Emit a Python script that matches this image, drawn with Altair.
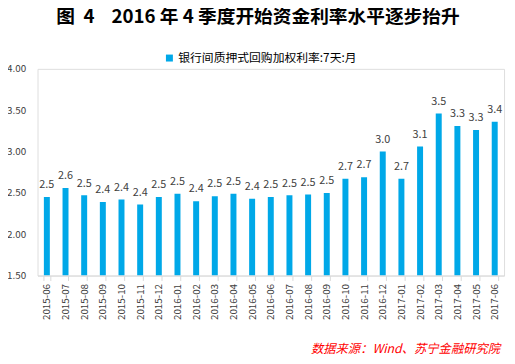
import altair as alt
import pandas as pd

months = ["2015-06", "2015-07", "2015-08", "2015-09", "2015-10", "2015-11", "2015-12",
          "2016-01", "2016-02", "2016-03", "2016-04", "2016-05", "2016-06", "2016-07",
          "2016-08", "2016-09", "2016-10", "2016-11", "2016-12", "2017-01", "2017-02",
          "2017-03", "2017-04", "2017-05", "2017-06"]
rates = [2.45, 2.56, 2.47, 2.39, 2.42, 2.36, 2.45,
         2.49, 2.40, 2.46, 2.49, 2.43, 2.45, 2.47,
         2.48, 2.50, 2.67, 2.69, 3.00, 2.67, 3.06,
         3.46, 3.31, 3.26, 3.36]
series_name = "银行间质押式回购加权利率:7天:月"
y_ticks = [1.5, 2.0, 2.5, 3.0, 3.5, 4.0]
title_text = "图\u00a0\u00a04\u00a0\u00a0\u00a0\u00a02016\u00a0年\u00a04\u00a0季度开始资金利率水平逐步抬升"
source_text = "数据来源：Wind、苏宁金融研究院"

FONT = "Noto Sans CJK SC"
BLUE = "#00A8E8"

df = pd.DataFrame({"month": months, "rate": rates, "series": series_name})

x_enc = alt.X("month:N", sort=None,
              scale=alt.Scale(paddingInner=0.68, paddingOuter=0.34),
              axis=alt.Axis(title=None, labelAngle=270, labelFontSize=10, labelColor="#404040",
                            labelFont=FONT, domainColor="#D9D9D9", tickColor="#D9D9D9",
                            tickSize=5, tickBand="extent", labelPadding=3))
y_enc = alt.Y("rate:Q", scale=alt.Scale(domain=[1.5, 4.0], nice=False, zero=False),
              axis=alt.Axis(title=None, values=y_ticks, format=".2f", grid=False, domain=False,
                            ticks=False, labelPadding=12, labelFontSize=10,
                            labelColor="#404040", labelFont=FONT))

base = alt.Chart(df)
bars = base.mark_bar(clip=True).encode(
    x=x_enc, y=y_enc, y2=alt.datum(1.5),
    color=alt.Color("series:N", scale=alt.Scale(range=[BLUE]),
                    legend=alt.Legend(title=None, orient="none", legendX=128, legendY=-17,
                                      symbolType="square", symbolSize=50, labelFontSize=12,
                                      labelFont=FONT, labelColor="#000000", padding=0,
                                      symbolStrokeWidth=0, labelOffset=3, labelLimit=400)),
)
labels = base.mark_text(dy=-9, fontSize=11, color="#404040", font=FONT, baseline="alphabetic").encode(
    x=x_enc, y=y_enc, text=alt.Text("rate:Q", format=".1f"))

title = alt.Chart(pd.DataFrame({"t": [title_text]})).mark_text(
    fontSize=19, fontWeight="bold", font=FONT, color="#000000", align="center", baseline="middle"
).encode(text="t:N", x=alt.value(224), y=alt.value(-53))

source = alt.Chart(pd.DataFrame({"t": [source_text]})).mark_text(
    fontSize=12.5, fontStyle="italic", font=FONT, color="#FF0000", align="right", baseline="middle"
).encode(text="t:N", x=alt.value(470), y=alt.value(285))

chart = alt.layer(bars, labels, title, source).properties(
    width=474, height=210,
    autosize=alt.AutoSizeParams(type="none"),
    padding={"left": 30, "top": 59, "right": 3, "bottom": 87},
).configure_view(stroke=None).configure(font=FONT)

chart.save("out.html", embed_options={"renderer": "svg", "actions": False})
